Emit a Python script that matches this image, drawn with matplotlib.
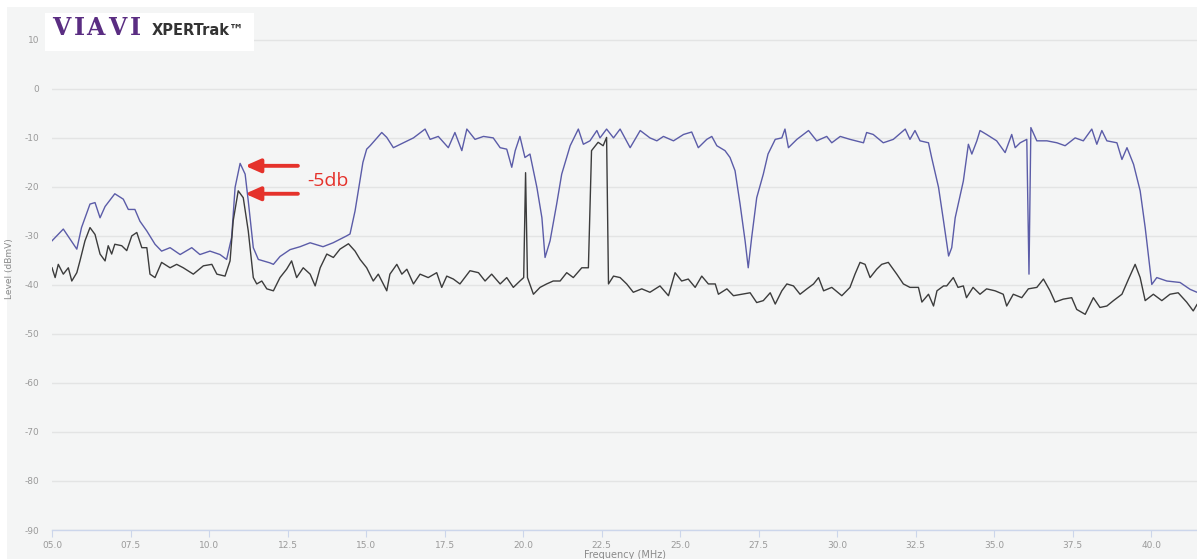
import matplotlib
matplotlib.use("Agg")
import matplotlib.pyplot as plt
from matplotlib.patches import Rectangle

# ---------------- data ----------------
blue_freq = [5.00, 5.36, 5.57, 5.79, 5.94, 6.21, 6.37, 6.53, 6.69, 7.00, 7.27, 7.43, 7.64, 7.80,
             8.02, 8.28, 8.49, 8.76, 9.08, 9.45, 9.71, 10.03, 10.35, 10.56, 10.72, 10.83, 10.99,
             11.15, 11.25, 11.41, 11.57, 11.94, 12.05, 12.26, 12.58, 12.90, 13.22, 13.63, 13.95,
             14.38, 14.49, 14.65, 14.80, 14.90, 15.02, 15.13, 15.50, 15.66, 15.87, 16.19, 16.51,
             16.88, 17.04, 17.30, 17.62, 17.83, 18.05, 18.21, 18.47, 18.74, 19.05, 19.27, 19.48,
             19.64, 19.75, 19.90, 20.06, 20.22, 20.44, 20.60, 20.70, 20.86, 21.07, 21.23, 21.50,
             21.76, 21.92, 22.13, 22.35, 22.45, 22.66, 22.88, 23.09, 23.41, 23.73, 24.04, 24.26,
             24.47, 24.79, 25.11, 25.37, 25.58, 25.85, 26.01, 26.17, 26.43, 26.59, 26.75, 26.91,
             27.07, 27.17, 27.28, 27.44, 27.65, 27.80, 28.03, 28.24, 28.34, 28.45, 28.72, 29.09,
             29.35, 29.67, 29.83, 30.10, 30.41, 30.84, 30.94, 31.15, 31.47, 31.79, 32.17, 32.32,
             32.48, 32.64, 32.91, 33.01, 33.23, 33.39, 33.55, 33.65, 33.76, 34.02, 34.18, 34.29,
             34.45, 34.55, 34.76, 35.08, 35.35, 35.56, 35.67, 35.83, 36.04, 36.11, 36.17, 36.36,
             36.68, 37.00, 37.26, 37.58, 37.84, 38.11, 38.27, 38.43, 38.59, 38.91, 39.07, 39.23,
             39.44, 39.65, 39.81, 40.02, 40.18, 40.50, 40.92, 41.24, 41.46]
blue_level = [-31.0, -28.6, -30.6, -32.7, -28.3, -23.5, -23.2, -26.3, -24.0, -21.4, -22.5, -24.6,
              -24.6, -27.0, -29.0, -31.7, -33.1, -32.4, -33.8, -32.4, -33.8, -33.1, -33.8, -34.8,
              -30.3, -20.1, -15.2, -17.4, -22.9, -32.4, -34.8, -35.5, -35.8, -34.2, -32.8, -32.2,
              -31.4, -32.2, -31.4, -30.0, -29.6, -24.9, -19.0, -15.0, -12.3, -11.6, -8.9, -9.9,
              -12.0, -11.0, -10.0, -8.2, -10.3, -9.7, -12.0, -8.9, -12.6, -8.2, -10.3, -9.7, -10.0,
              -12.0, -12.3, -16.0, -12.6, -9.7, -14.0, -13.3, -20.1, -26.3, -34.4, -31.0, -23.5,
              -17.4, -11.6, -8.2, -11.3, -10.6, -8.5, -10.0, -8.2, -10.0, -8.2, -12.0, -8.5, -10.0,
              -10.6, -9.7, -10.6, -9.3, -8.8, -12.0, -10.3, -9.7, -11.6, -12.6, -14.0, -16.7,
              -23.5, -31.0, -36.5, -30.3, -22.2, -17.4, -13.3, -10.3, -10.0, -8.2, -12.0, -10.3,
              -8.5, -10.6, -9.7, -11.0, -9.7, -10.3, -11.0, -8.9, -9.3, -11.0, -10.3, -8.2, -10.3,
              -8.5, -10.6, -11.0, -14.0, -20.1, -27.0, -34.1, -32.4, -26.3, -18.8, -11.3, -13.3,
              -10.6, -8.5, -9.3, -10.6, -13.0, -9.3, -12.0, -11.0, -10.3, -37.8, -7.9, -10.6,
              -10.6, -11.0, -11.6, -10.0, -10.6, -8.2, -11.3, -8.5, -10.6, -11.0, -14.4, -12.0,
              -15.4, -20.8, -28.3, -39.9, -38.5, -39.2, -39.5, -40.9, -41.5]

black_freq = [5.00, 5.10, 5.20, 5.36, 5.52, 5.63, 5.79, 5.89, 6.05, 6.21, 6.37, 6.53, 6.69, 6.79,
              6.90, 7.00, 7.22, 7.38, 7.54, 7.70, 7.86, 8.02, 8.12, 8.28, 8.49, 8.76, 8.97, 9.18,
              9.50, 9.82, 10.09, 10.25, 10.51, 10.67, 10.77, 10.93, 11.09, 11.25, 11.41, 11.52,
              11.68, 11.84, 12.05, 12.26, 12.47, 12.63, 12.79, 13.00, 13.22, 13.38, 13.54, 13.75,
              13.96, 14.17, 14.44, 14.65, 14.81, 15.02, 15.23, 15.39, 15.66, 15.76, 15.98, 16.14,
              16.30, 16.51, 16.72, 16.98, 17.25, 17.41, 17.57, 17.78, 17.99, 18.31, 18.58, 18.79,
              19.00, 19.27, 19.48, 19.69, 19.90, 20.02, 20.08, 20.14, 20.33, 20.54, 20.75, 20.96,
              21.18, 21.39, 21.60, 21.87, 22.08, 22.18, 22.39, 22.55, 22.66, 22.72, 22.88, 23.09,
              23.30, 23.51, 23.78, 24.04, 24.36, 24.63, 24.84, 25.05, 25.26, 25.48, 25.69, 25.90,
              26.12, 26.22, 26.49, 26.70, 26.97, 27.23, 27.44, 27.65, 27.87, 28.03, 28.24, 28.40,
              28.61, 28.82, 29.04, 29.25, 29.41, 29.57, 29.83, 30.15, 30.41, 30.57, 30.73, 30.89,
              31.05, 31.26, 31.42, 31.63, 31.90, 32.11, 32.32, 32.59, 32.70, 32.91, 33.07, 33.18,
              33.39, 33.49, 33.70, 33.85, 34.02, 34.12, 34.33, 34.55, 34.76, 35.03, 35.29, 35.40,
              35.61, 35.88, 36.09, 36.36, 36.57, 36.78, 36.94, 37.20, 37.47, 37.63, 37.90, 38.16,
              38.37, 38.59, 38.80, 39.07, 39.28, 39.49, 39.65, 39.81, 40.07, 40.34, 40.60, 40.86,
              41.13, 41.34, 41.46]
black_level = [-36.5, -38.5, -35.8, -37.8, -36.5, -39.2, -37.5, -35.1, -31.0, -28.3, -29.7, -33.7,
               -35.1, -32.0, -33.7, -31.7, -32.0, -33.0, -30.0, -29.3, -32.4, -32.4, -37.8, -38.5,
               -35.4, -36.5, -35.8, -36.5, -37.8, -36.1, -35.8, -37.8, -38.2, -35.1, -26.9, -20.8,
               -22.2, -29.0, -38.5, -39.8, -39.2, -40.8, -41.2, -38.5, -36.8, -35.1, -38.5, -36.5,
               -37.8, -40.2, -36.5, -33.7, -34.4, -32.7, -31.6, -33.1, -34.8, -36.5, -39.2, -37.8,
               -41.2, -37.8, -35.8, -37.8, -36.8, -39.8, -37.8, -38.5, -37.5, -40.5, -38.2, -38.8,
               -39.8, -37.1, -37.5, -39.2, -37.8, -39.8, -38.5, -40.5, -39.2, -38.5, -17.1, -38.5,
               -41.9, -40.5, -39.8, -39.2, -39.2, -37.5, -38.5, -36.5, -36.5, -12.6, -10.9, -11.6,
               -9.9, -39.8, -38.2, -38.5, -39.8, -41.5, -40.8, -41.5, -40.2, -42.2, -37.5, -39.2,
               -38.8, -40.5, -38.2, -39.8, -39.8, -41.9, -40.8, -42.2, -41.9, -41.6, -43.6, -43.2,
               -41.6, -43.9, -41.2, -39.8, -40.2, -41.9, -40.8, -39.8, -38.5, -41.2, -40.5, -42.2,
               -40.5, -37.8, -35.4, -35.8, -38.5, -36.8, -35.8, -35.4, -37.8, -39.8, -40.5, -40.5,
               -43.5, -41.9, -44.3, -41.2, -40.2, -40.2, -38.5, -40.5, -40.2, -42.6, -40.5, -41.9,
               -40.8, -41.2, -41.9, -44.3, -41.9, -42.6, -40.8, -40.5, -38.8, -41.2, -43.5, -42.9,
               -42.6, -45.0, -46.0, -42.6, -44.6, -44.3, -43.2, -41.9, -38.8, -35.8, -38.5, -43.2,
               -41.9, -43.2, -41.9, -41.6, -43.5, -45.3, -44.0]

x_ticks = [5.0, 7.5, 10.0, 12.5, 15.0, 17.5, 20.0, 22.5, 25.0, 27.5, 30.0, 32.5, 35.0, 37.5, 40.0]
x_tick_labels = ["05.0", "07.5", "10.0", "12.5", "15.0", "17.5", "20.0", "22.5", "25.0",
                 "27.5", "30.0", "32.5", "35.0", "37.5", "40.0"]
y_ticks = [10, 0, -10, -20, -30, -40, -50, -60, -70, -80, -90]

peak_blue = (11.0, -15.7)
peak_black = (11.0, -21.4)
annot_text = "-5db"
logo_letters = ["V", "I", "A", "V", "I"]

# ---------------- figure ----------------
W, H = 1197, 559
fig = plt.figure(figsize=(W / 100, H / 100), dpi=100, facecolor="white")
bg = "#f4f5f5"
fig.add_artist(Rectangle((7 / W, 0), 1 - 7 / W, 1 - 7 / H, transform=fig.transFigure,
                         facecolor=bg, edgecolor="none", zorder=-5))

left = 52 / W
bottom = 1 - 530 / H
top = 1 - 8 / H
ax = fig.add_axes([left, bottom, 1 - left, top - bottom])
ax.set_zorder(1)
ax.set_facecolor("none")

ax.plot(blue_freq, blue_level, color="#5b5ca8", lw=1.0, zorder=3)
ax.plot(black_freq, black_level, color="#3c3c3c", lw=1.0, zorder=3)

ax.set_xlim(5.0, 41.46)
ax.set_ylim(-90, 16.5)

ax.set_yticks(y_ticks)
ax.set_yticklabels([str(v) for v in y_ticks])
ax.set_xticks(x_ticks)
ax.set_xticklabels(x_tick_labels)

ax.grid(axis="y", color="#e3e4e4", lw=1.0)
ax.grid(axis="x", visible=False)
for s in ["top", "right", "left"]:
    ax.spines[s].set_visible(False)
ax.spines["bottom"].set_color("#ccd6eb")
ax.spines["bottom"].set_linewidth(1.0)
ax.tick_params(axis="y", length=0, pad=9, labelsize=6.5, labelcolor="#9a9a9a")
ax.tick_params(axis="x", length=5, width=0.8, color="#ccd6eb", pad=3, labelsize=6.5,
               labelcolor="#9a9a9a", direction="out")

ax.set_ylabel("Level (dBmV)", fontsize=6.5, color="#8a8a8a")
ax.yaxis.set_label_coords(-38 / (W - 52), 0.5)
ax.set_xlabel("Frequency (MHz)", fontsize=7, color="#8a8a8a", labelpad=0)

# annotation arrows
red = "#e5322b"
for (xt, yt) in [peak_blue, peak_black]:
    ax.annotate("", xy=(xt + 0.15, yt), xytext=(12.83, yt),
                arrowprops=dict(arrowstyle="-|>,head_length=0.9,head_width=0.4",
                                color=red, lw=2.8, shrinkA=0, shrinkB=0, mutation_scale=10),
                zorder=5)
ax.text(13.12, (peak_blue[1] + peak_black[1]) / 2 - 0.2, annot_text, color=red, fontsize=14,
        ha="left", va="center", family="Open Sans", zorder=5)

# logo
fig.add_artist(Rectangle((45 / W, 1 - 51 / H), 209 / W, 38 / H, transform=fig.transFigure,
                         facecolor="white", edgecolor="none", zorder=10))
logo_x = [52, 74, 86, 108, 130]
for lx, ch in zip(logo_x, logo_letters):
    fig.text(lx / W, 1 - 35 / H, ch, fontsize=17, fontweight="bold", family="DejaVu Serif",
             color="#5a2d82", ha="left", va="baseline", zorder=11)
fig.text(152 / W, 1 - 35 / H, "XPERTrak™", fontsize=10.5, fontweight="bold",
         family="DejaVu Sans", color="#333333", ha="left", va="baseline", zorder=11)

fig.savefig("out.png", dpi=100, facecolor="white")
